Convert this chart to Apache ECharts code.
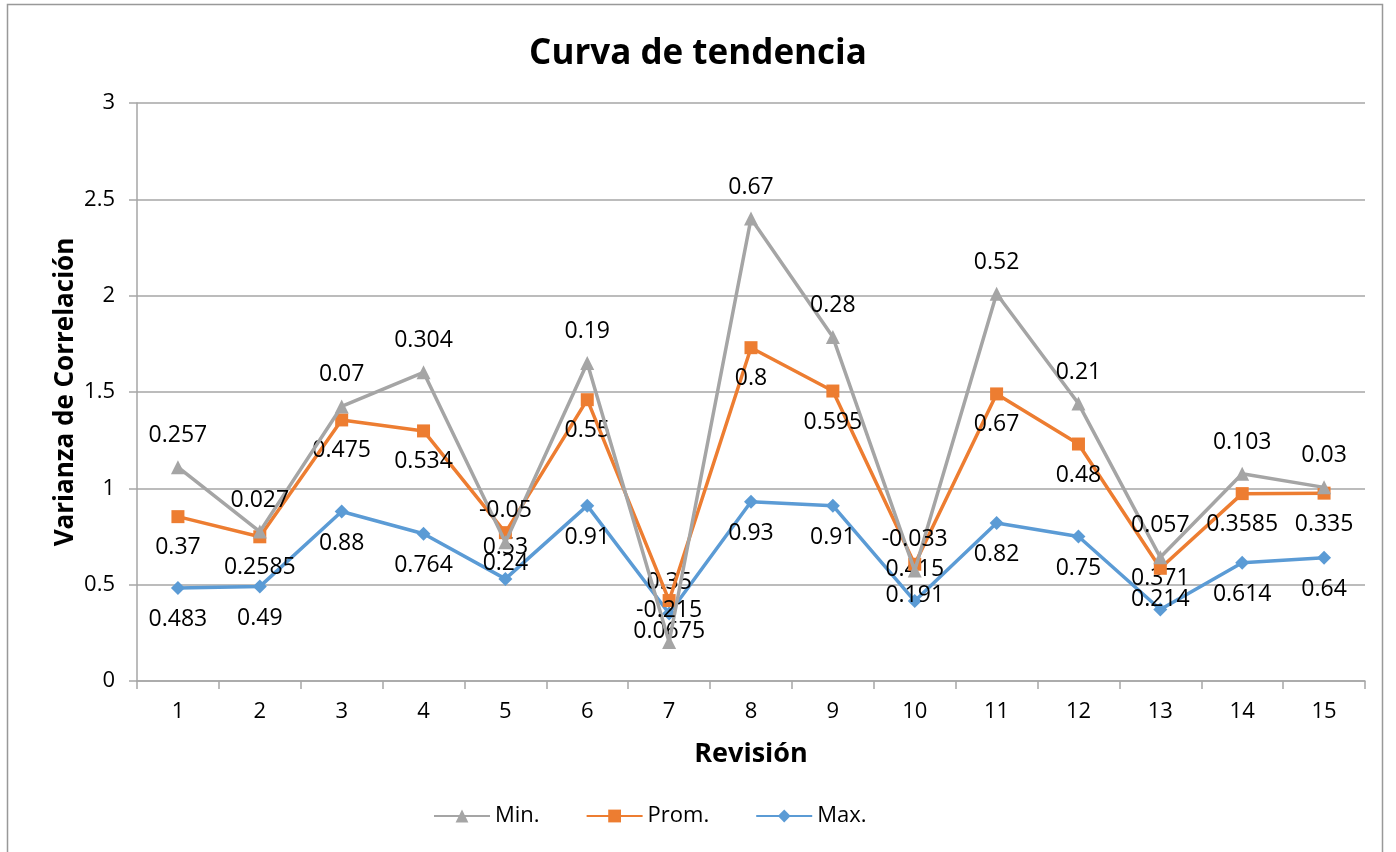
<!DOCTYPE html>
<html>
<head>
<meta charset="utf-8">
<title>Curva de tendencia</title>
<script src="https://cdn.jsdelivr.net/npm/echarts@6/dist/echarts.min.js"></script>
<style>
  html, body { margin: 0; padding: 0; background: #fff; }
  #chart { width: 1396px; height: 852px; }
</style>
</head>
<body>
<div id="chart"></div>
<script>
// data (values as shown in the data labels; the series are stacked)
var revisiones = ['1', '2', '3', '4', '5', '6', '7', '8', '9', '10', '11', '12', '13', '14', '15'];
var maxValues = [0.483, 0.49, 0.88, 0.764, 0.53, 0.91, 0.35, 0.93, 0.91, 0.415, 0.82, 0.75, 0.371, 0.614, 0.64];
var promValues = [0.37, 0.2585, 0.475, 0.534, 0.24, 0.55, 0.0675, 0.8, 0.595, 0.191, 0.67, 0.48, 0.214, 0.3585, 0.335];
var minValues = [0.257, 0.027, 0.07, 0.304, -0.05, 0.19, -0.215, 0.67, 0.28, -0.033, 0.52, 0.21, 0.057, 0.103, 0.03];

// points where the Max label sits above the marker
var maxLabelAbove = [4, 6, 9, 12];

var font = '"Open Sans", "Liberation Sans", sans-serif';
var gridColor = '#A6A6A6';

var chart = echarts.init(document.getElementById('chart'));

function labelStyle(pos) {
	return {
		show: true,
		position: pos,
		distance: 13,
		color: '#000',
		fontFamily: font,
		fontSize: 23
	};
}

var maxData = maxValues.map(function (v, i) {
	if (maxLabelAbove.indexOf(i) >= 0) {
		return { value: v, label: { position: 'top' } };
	}
	return v;
});

chart.setOption({
	animation: false,
	textStyle: { fontFamily: font },
	title: {
		text: 'Curva de tendencia',
		left: 'center',
		top: 32,
		textStyle: { fontFamily: font, fontSize: 35, fontWeight: 'bold', color: '#000' }
	},
	graphic: [
		{
			type: 'rect',
			shape: { x: 7.5, y: 4.5, width: 1375, height: 860 },
			style: { fill: 'none', stroke: '#999', lineWidth: 1.5 },
			silent: true
		},
		{
			// y axis title
			type: 'text',
			x: 66,
			y: 392,
			rotation: Math.PI / 2,
			style: {
				text: 'Varianza de Correlación',
				font: 'bold 26px ' + font,
				fill: '#000',
				align: 'center',
				verticalAlign: 'middle'
			},
			silent: true
		}
	],
	legend: {
		data: ['Min.', 'Prom.', 'Max.'],
		bottom: 20,
		left: 428,
		itemWidth: 56,
		itemHeight: 16,
		itemGap: 46,
		textStyle: { fontFamily: font, fontSize: 22, color: '#000' }
	},
	grid: {
		left: 137,
		right: 31,
		top: 103,
		bottom: 171
	},
	xAxis: {
		type: 'category',
		data: revisiones,
		boundaryGap: true,
		name: 'Revisión',
		nameLocation: 'middle',
		nameGap: 60,
		nameTextStyle: { fontFamily: font, fontSize: 27, fontWeight: 'bold', color: '#000' },
		axisLine: { lineStyle: { color: gridColor, width: 1.5 } },
		axisTick: { show: true, length: 8, lineStyle: { color: gridColor, width: 1.5 } },
		axisLabel: { fontFamily: font, fontSize: 22, color: '#000', margin: 20 }
	},
	yAxis: {
		type: 'value',
		min: 0,
		max: 3,
		interval: 0.5,
		axisLine: { show: true, lineStyle: { color: gridColor, width: 1.5 } },
		axisTick: { show: true, length: 8, lineStyle: { color: gridColor, width: 1.5 } },
		axisLabel: { fontFamily: font, fontSize: 22, color: '#000', margin: 22 },
		splitLine: { lineStyle: { color: gridColor, width: 1.5 } }
	},
	series: [
		{
			name: 'Max.',
			type: 'line',
			stack: 'total',
			stackStrategy: 'all',
			data: maxData,
			symbol: 'diamond',
			symbolSize: 14,
			lineStyle: { color: '#5B9BD5', width: 3.5 },
			itemStyle: { color: '#5B9BD5' },
			label: labelStyle('bottom'),
			z: 3
		},
		{
			name: 'Prom.',
			type: 'line',
			stack: 'total',
			stackStrategy: 'all',
			data: promValues,
			symbol: 'rect',
			symbolSize: 13,
			lineStyle: { color: '#ED7D31', width: 3.5 },
			itemStyle: { color: '#ED7D31' },
			label: labelStyle('bottom'),
			z: 4
		},
		{
			name: 'Min.',
			type: 'line',
			stack: 'total',
			stackStrategy: 'all',
			data: minValues,
			symbol: 'triangle',
			symbolSize: 14,
			lineStyle: { color: '#A5A5A5', width: 3.5 },
			itemStyle: { color: '#A5A5A5' },
			label: labelStyle('top'),
			z: 5
		}
	]
});
</script>
</body>
</html>
